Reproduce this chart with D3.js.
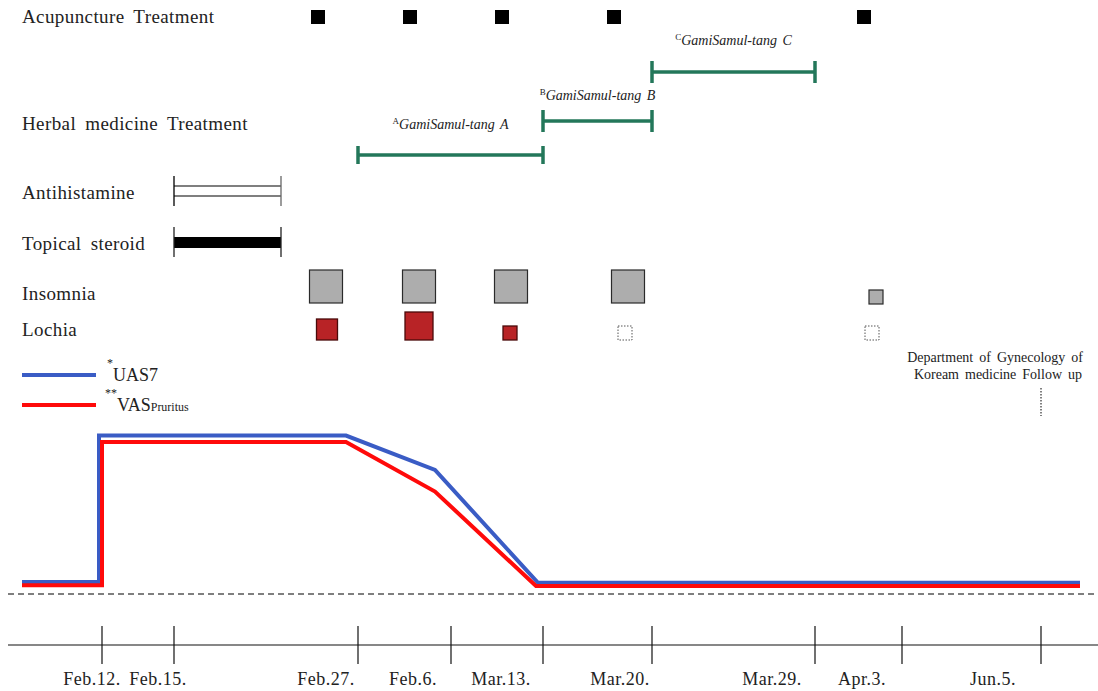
<!DOCTYPE html>
<html>
<head>
<meta charset="utf-8">
<script src="https://cdn.jsdelivr.net/npm/d3@7"></script>
<style>
  body { margin: 0; background: #fff; }
  text { font-family: "Liberation Serif", "DejaVu Serif", serif; fill: #222; }
</style>
</head>
<body>
<div id="chart"></div>
<script>
// schematic timeline: positions along the treatment course
let tickLabels = ["Feb.12.", "Feb.15.", "Feb.27.", "Feb.6.", "Mar.13.", "Mar.20.", "Mar.29.", "Apr.3.", "Jun.5."];
let tickPos = [102, 174, 358, 451, 543, 652, 815, 902, 1041];
let labelPos = [92, 158, 326, 413, 501, 620, 772, 862, 993];

let rowLabels = ["Acupuncture Treatment", "Herbal medicine Treatment", "Antihistamine", "Topical steroid", "Insomnia", "Lochia"];

let acupuncture = [318, 410, 502, 614, 864];

let herbNames = ["A", "B", "C"];
let herbStart = [358, 543, 652];
let herbEnd = [543, 652, 815];
let herbLevel = [0, 1, 2];

let antihistamine = [174, 281];
let steroid = [174, 281];

let insomniaPos = [326, 419, 511, 628, 876];
let insomniaGrade = [3, 3, 3, 3, 1];
let lochiaPos = [327, 419, 510, 625, 872];
let lochiaGrade = [2, 3, 1, 0, 0];

let uasX = [22, 99, 99, 346, 435, 538, 1080];
let uasY = [0.75, 0.75, 9.9, 9.9, 7.75, 0.7, 0.7];
let vasX = [22, 102, 102, 346, 435, 536, 1080];
let vasY = [0.55, 0.55, 9.5, 9.5, 6.4, 0.5, 0.5];

let followUpPos = 1041;

let width = 1098;
let height = 691;

let svg = d3.select("#chart").append("svg")
    .attr("width", width)
    .attr("height", height)

let xscale = d3.scaleLinear()
    .domain([0, width])
    .range([0, width])

let yscale = d3.scaleLinear()
    .domain([0, 10])
    .range([594, 434])

let green = "#23775a";
let blue = "#3a5cc5";
let red = "#ff0a0a";

// row labels
let rowY = [23, 130, 199, 250, 300, 336];
svg.selectAll("text.row").data(rowLabels).enter().append("text")
    .attr("class", "row")
    .attr("x", 22)
    .attr("y", (d, i) => rowY[i])
    .style("font-size", "19px")
    .style("letter-spacing", "0.4px")
    .style("word-spacing", "4px")
    .text(d => d)

// acupuncture
svg.selectAll("rect.acu").data(acupuncture).enter().append("rect")
    .attr("x", d => xscale(d) - 7)
    .attr("y", 10)
    .attr("width", 14)
    .attr("height", 14)
    .attr("fill", "#000")

// herbal medicine
let herbBarY = [155, 121, 72];
let herbCap = [9, 11, 11];
let herbTextY = [129, 100, 45];
herbNames.forEach(function (n, i) {
    let y = herbBarY[herbLevel[i]];
    let g = svg.append("g").attr("stroke", green).attr("stroke-width", 3.5)
    g.append("line").attr("x1", xscale(herbStart[i])).attr("x2", xscale(herbEnd[i])).attr("y1", y).attr("y2", y)
    g.append("line").attr("x1", xscale(herbStart[i])).attr("x2", xscale(herbStart[i])).attr("y1", y - herbCap[i]).attr("y2", y + herbCap[i])
    g.append("line").attr("x1", xscale(herbEnd[i])).attr("x2", xscale(herbEnd[i])).attr("y1", y - herbCap[i]).attr("y2", y + herbCap[i])

    let t = svg.append("text")
        .attr("x", (xscale(herbStart[i]) + xscale(herbEnd[i])) / 2)
        .attr("y", herbTextY[i])
        .attr("text-anchor", "middle")
        .style("font-size", "14px")
        .style("font-style", "italic")
        .style("word-spacing", "2px")
    t.append("tspan").attr("font-size", "9px").attr("dy", -5).style("font-style", "normal").text(n)
    t.append("tspan").attr("dy", 5).text("GamiSamul-tang " + n)
})

// antihistamine
let ahG = svg.append("g")
ahG.selectAll("line.h").data([186, 196]).enter().append("line")
    .attr("x1", xscale(antihistamine[0])).attr("x2", xscale(antihistamine[1]))
    .attr("y1", d => d).attr("y2", d => d)
    .attr("stroke", "#555").attr("stroke-width", 1.3)
ahG.selectAll("line.v").data(antihistamine).enter().append("line")
    .attr("x1", d => xscale(d)).attr("x2", d => xscale(d))
    .attr("y1", 176).attr("y2", 206)
    .attr("stroke", (d, i) => i == 0 ? "#000" : "#666").attr("stroke-width", 1.3)

// topical steroid
svg.append("rect")
    .attr("x", xscale(steroid[0])).attr("y", 237)
    .attr("width", xscale(steroid[1]) - xscale(steroid[0])).attr("height", 11)
    .attr("fill", "#000")
svg.selectAll("line.st").data(steroid).enter().append("line")
    .attr("x1", d => xscale(d)).attr("x2", d => xscale(d))
    .attr("y1", 227).attr("y2", 257)
    .attr("stroke", "#222").attr("stroke-width", 1.3)

// insomnia & lochia (square size = severity)
let insSize = d3.scaleLinear().domain([1, 3]).range([14, 33])
let lochSize = d3.scaleLinear().domain([1, 3]).range([14, 28])

svg.selectAll("rect.ins").data(insomniaGrade).enter().append("rect")
    .attr("x", (d, i) => xscale(insomniaPos[i]) - insSize(d) / 2)
    .attr("y", d => 303 - insSize(d) - (d < 2 ? -1 : 0))
    .attr("width", d => insSize(d))
    .attr("height", d => insSize(d))
    .attr("fill", "#adadad")
    .attr("stroke", "#2a2a2a")
    .attr("stroke-width", 1.2)

svg.selectAll("rect.loc").data(lochiaGrade).enter().append("rect")
    .attr("x", (d, i) => xscale(lochiaPos[i]) - lochSize(Math.max(d, 1)) / 2)
    .attr("y", d => 340 - lochSize(Math.max(d, 1)))
    .attr("width", d => lochSize(Math.max(d, 1)))
    .attr("height", d => lochSize(Math.max(d, 1)))
    .attr("fill", d => d > 0 ? "#b82326" : "none")
    .attr("stroke", d => d > 0 ? "#4a0a0a" : "#555")
    .attr("stroke-width", d => d > 0 ? 1.3 : 1)
    .attr("stroke-dasharray", d => d > 0 ? null : "1.5,1.5")

// legend
svg.append("line").attr("x1", 22).attr("x2", 96).attr("y1", 375).attr("y2", 375)
    .attr("stroke", blue).attr("stroke-width", 4)
svg.append("line").attr("x1", 22).attr("x2", 96).attr("y1", 405).attr("y2", 405)
    .attr("stroke", red).attr("stroke-width", 4)

let l1 = svg.append("text").attr("x", 107).attr("y", 381).style("font-size", "18px")
l1.append("tspan").attr("dy", -14).style("font-size", "12px").text("*")
l1.append("tspan").attr("dy", 14).text("UAS7")
let l2 = svg.append("text").attr("x", 105).attr("y", 411).style("font-size", "18px")
l2.append("tspan").attr("dy", -14).style("font-size", "12px").text("**")
l2.append("tspan").attr("dy", 14).text("VAS")
l2.append("tspan").style("font-size", "12px").text("Pruritus")

// follow up note
svg.append("text").attr("x", 1083).attr("y", 362).attr("text-anchor", "end")
    .style("font-size", "14px").style("word-spacing", "2.5px").text("Department of Gynecology of")
svg.append("text").attr("x", 1082).attr("y", 379).attr("text-anchor", "end")
    .style("font-size", "14px").style("word-spacing", "2.5px").text("Koream medicine Follow up")
svg.append("line")
    .attr("x1", xscale(followUpPos)).attr("x2", xscale(followUpPos))
    .attr("y1", 388).attr("y2", 416)
    .attr("stroke", "#000").attr("stroke-width", 1).attr("stroke-dasharray", "1.5,1.5")

// score lines
let line = d3.line().x(d => xscale(d[0])).y(d => yscale(d[1]))

svg.append("path")
    .datum(uasX.map((x, i) => [x, uasY[i]]))
    .attr("d", line).attr("fill", "none")
    .attr("stroke", blue).attr("stroke-width", 4)
svg.append("path")
    .datum(vasX.map((x, i) => [x, vasY[i]]))
    .attr("d", line).attr("fill", "none")
    .attr("stroke", red).attr("stroke-width", 4)

// baseline
svg.append("line").attr("x1", 8).attr("x2", width).attr("y1", yscale(0)).attr("y2", yscale(0))
    .attr("stroke", "#000").attr("stroke-width", 1.2).attr("stroke-dasharray", "6,4")

// timeline axis
let axisY = 645;
svg.append("line").attr("x1", 8).attr("x2", width).attr("y1", axisY).attr("y2", axisY)
    .attr("stroke", "#111").attr("stroke-width", 1.2)
svg.selectAll("line.tick").data(tickPos).enter().append("line")
    .attr("x1", d => xscale(d)).attr("x2", d => xscale(d))
    .attr("y1", axisY - 19).attr("y2", axisY + 19)
    .attr("stroke", "#111").attr("stroke-width", 1.2)
svg.selectAll("text.tick").data(tickLabels).enter().append("text")
    .attr("x", (d, i) => xscale(labelPos[i]))
    .attr("y", 685)
    .attr("text-anchor", "middle")
    .style("font-size", "18px")
    .style("letter-spacing", "0.5px")
    .text(d => d)
</script>
</body>
</html>
